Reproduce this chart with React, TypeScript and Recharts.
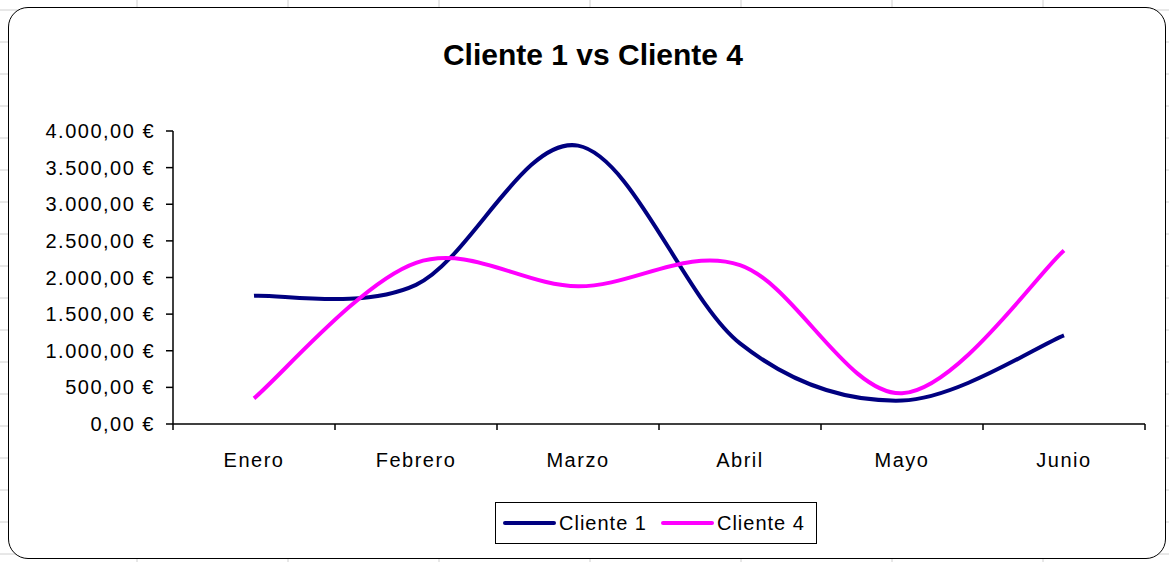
import React from "react"
import { LineChart, Line, XAxis, YAxis } from "recharts"

const months = ["Enero", "Febrero", "Marzo", "Abril", "Mayo", "Junio"]
const cliente1 = [1750, 1900, 3800, 1100, 320, 1210]
const cliente4 = [350, 2200, 1880, 2170, 420, 2370]
const yTicks = [0, 500, 1000, 1500, 2000, 2500, 3000, 3500, 4000]
const seriesNames = ["Cliente 1", "Cliente 4"]
const seriesColors = ["#000080", "#ff00ff"]

const data = months.map((m, i) => ({ month: m, c1: cliente1[i], c4: cliente4[i] }))

const W = 1169
const H = 562
const PLOT_LEFT = 173
const PLOT_RIGHT = 1145
const BAND = (PLOT_RIGHT - PLOT_LEFT) / months.length
const FONT = "'Liberation Sans', Arial, sans-serif"

function euro(v: number) {
  const [i, d] = v.toFixed(2).split(".")
  return i.replace(/\B(?=(\d{3})+(?!\d))/g, ".") + "," + d + " €"
}

// Excel-like smoothed line (Catmull-Rom through the points)
function excelCurve(context: any) {
  let pts: [number, number][] = []
  return {
    areaStart() {},
    areaEnd() {},
    lineStart() {
      pts = []
    },
    lineEnd() {
      if (!pts.length) return
      context.moveTo(pts[0][0], pts[0][1])
      for (let i = 0; i < pts.length - 1; i++) {
        const p0 = pts[i - 1] || pts[i]
        const p1 = pts[i]
        const p2 = pts[i + 1]
        const p3 = pts[i + 2] || p2
        context.bezierCurveTo(
          p1[0] + (p2[0] - p0[0]) / 6,
          p1[1] + (p2[1] - p0[1]) / 6,
          p2[0] - (p3[0] - p1[0]) / 6,
          p2[1] - (p3[1] - p1[1]) / 6,
          p2[0],
          p2[1]
        )
      }
    },
    point(x: number, y: number) {
      pts.push([+x, +y])
    },
  }
}

function MonthTick(props: any) {
  const { x, y, payload, index } = props
  const left = x - BAND / 2
  return (
    <g>
      <line x1={left} y1={y - 7} x2={left} y2={y - 1} stroke="#000" strokeWidth={1.5} />
      {index === months.length - 1 && (
        <line x1={x + BAND / 2} y1={y - 7} x2={x + BAND / 2} y2={y - 1} stroke="#000" strokeWidth={1.5} />
      )}
      <text x={x} y={y + 36} textAnchor="middle" fill="#000" fontSize={20} fontFamily={FONT} style={{ letterSpacing: 1.5 }}>
        {payload.value}
      </text>
    </g>
  )
}

export default function App() {
  const colLines = [137, 288, 439, 590, 741, 892, 1043]
  const rowLines = [10, 42, 74, 106, 138, 170, 202, 234, 266, 298, 330, 362, 394, 426, 458, 490, 522, 554]
  return (
    <div style={{ position: "absolute", left: 0, top: 0, width: W, height: H, background: "#fff", overflow: "hidden" }}>
      <svg width={W} height={H} style={{ position: "absolute", left: 0, top: 0 }}>
        {colLines.map((x) => (
          <line key={x} x1={x} y1={0} x2={x} y2={H} stroke="#d0d0d0" />
        ))}
        {rowLines.map((y) => (
          <line key={y} x1={0} y1={y} x2={W} y2={y} stroke="#d0d0d0" />
        ))}
      </svg>
      <div
        style={{
          position: "absolute",
          left: 8,
          top: 7,
          width: 1156,
          height: 550,
          border: "1.5px solid #000",
          borderRadius: 20,
          background: "#fff",
        }}
      />
      <div
        style={{
          position: "absolute",
          left: 293,
          top: 40,
          width: 600,
          textAlign: "center",
          fontFamily: FONT,
          fontWeight: "bold",
          fontSize: 30,
          lineHeight: "30px",
          color: "#000",
        }}
      >
        Cliente 1 vs Cliente 4
      </div>
      <div style={{ position: "absolute", left: 0, top: 0 }}>
        <LineChart width={W} height={H} data={data} margin={{ top: 131, right: W - PLOT_RIGHT, bottom: 78, left: 8 }}>
          <XAxis
            dataKey="month"
            scale="band"
            height={60}
            tickLine={false}
            tickSize={7}
            tickMargin={0}
            axisLine={{ stroke: "#000", strokeWidth: 1.5 }}
            tick={<MonthTick />}
            interval={0}
          />
          <YAxis
            width={PLOT_LEFT - 8}
            domain={[0, 4000]}
            ticks={yTicks}
            tickFormatter={euro}
            tickSize={7}
            tickMargin={11}
            axisLine={{ stroke: "#000", strokeWidth: 1.5 }}
            tickLine={{ stroke: "#000", strokeWidth: 1.5 }}
            tick={{ fill: "#000", fontSize: 20, fontFamily: FONT, style: { letterSpacing: 1.5 } }}
            interval={0}
          />
          <Line
            dataKey="c1"
            name={seriesNames[0]}
            stroke={seriesColors[0]}
            strokeWidth={4}
            type={excelCurve as any}
            dot={false}
            activeDot={false}
            isAnimationActive={false}
          />
          <Line
            dataKey="c4"
            name={seriesNames[1]}
            stroke={seriesColors[1]}
            strokeWidth={4}
            type={excelCurve as any}
            dot={false}
            activeDot={false}
            isAnimationActive={false}
          />
        </LineChart>
      </div>
      <div
        style={{
          position: "absolute",
          left: 495,
          top: 502,
          width: 320,
          height: 40,
          border: "1.5px solid #000",
          display: "flex",
          alignItems: "center",
          fontFamily: FONT,
          fontSize: 20,
          letterSpacing: 1,
          color: "#000",
        }}
      >
        {seriesNames.map((n, i) => (
          <div key={n} style={{ display: "flex", alignItems: "center", marginLeft: i === 0 ? 7 : 14 }}>
            <div style={{ width: 53, height: 4, background: seriesColors[i], borderRadius: 2 }} />
            <span style={{ marginLeft: 3 }}>{n}</span>
          </div>
        ))}
      </div>
    </div>
  )
}
